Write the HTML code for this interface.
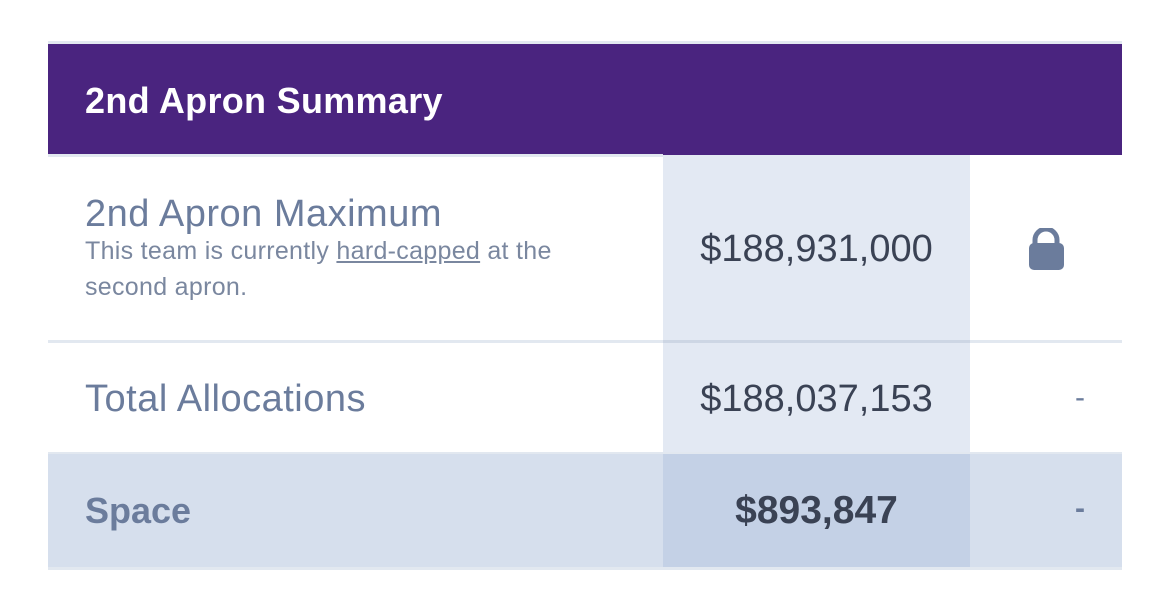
<!DOCTYPE html>
<html><head><meta charset="utf-8"><style>
body{margin:0;width:1170px;height:601px;background:#fff;position:relative;overflow:hidden;font-family:"Liberation Sans",sans-serif}
.a{position:absolute}
.val{position:absolute;left:663px;width:307px;text-align:center;font-size:38px;color:#3a4254}
.dash{position:absolute;left:1070px;width:20px;text-align:center;font-size:30px;color:#6b7c9c}
</style></head><body>
<div class="a" style="left:48px;top:41px;width:1074px;height:3px;background:#e2e8f0"></div>
<div class="a" style="left:48px;top:44px;width:1074px;height:111px;background:#4a247f"></div>
<div class="a" style="left:85px;top:80px;font-size:36px;font-weight:bold;color:#fff;letter-spacing:0.3px">2nd Apron Summary</div>
<div class="a" style="left:48px;top:154px;width:615px;height:3px;background:#e2e8f0"></div>

<div class="a" style="left:663px;top:155px;width:307px;height:298px;background:#e3e9f3"></div>
<div class="a" style="left:85px;top:193px;font-size:38px;color:#6b7c9c;letter-spacing:0.5px">2nd Apron Maximum</div>
<div class="a" style="left:85px;top:233px;width:500px;font-size:25px;line-height:36px;color:#7a879f;letter-spacing:0.3px">This team is currently <span style="text-decoration:underline">hard-capped</span> at the second apron.</div>
<div class="val" style="top:228px">$188,931,000</div>
<svg class="a" style="left:1026px;top:228px" width="42" height="44"><path d="M9 16 V12 a11 11 0 0 1 22 0 V16" fill="none" stroke="#6b7c9c" stroke-width="5"/><rect x="3" y="15" width="35" height="27" rx="5" fill="#6b7c9c"/></svg>

<div class="a" style="left:48px;top:340px;width:1074px;height:3px;background:#e2e8f0"></div>
<div class="a" style="left:663px;top:340px;width:307px;height:3px;background:#cdd6e4"></div>
<div class="a" style="left:85px;top:378px;font-size:38px;color:#6b7c9c;letter-spacing:0.5px">Total Allocations</div>
<div class="val" style="top:378px">$188,037,153</div>
<div class="dash" style="top:381px">-</div>

<div class="a" style="left:48px;top:453px;width:1074px;height:114px;background:#d6dfed"></div>
<div class="a" style="left:663px;top:453px;width:307px;height:114px;background:#c4d1e6"></div>
<div class="a" style="left:48px;top:452px;width:1074px;height:2px;background:#e2e8f0"></div>
<div class="a" style="left:48px;top:567px;width:1074px;height:3px;background:#e2e8f0"></div>
<div class="a" style="left:85px;top:490px;font-size:36px;font-weight:bold;color:#6b7c9c">Space</div>
<div class="val" style="top:489px;font-weight:bold;font-size:39px">$893,847</div>
<div class="dash" style="top:492px;font-weight:bold">-</div>
</body></html>
